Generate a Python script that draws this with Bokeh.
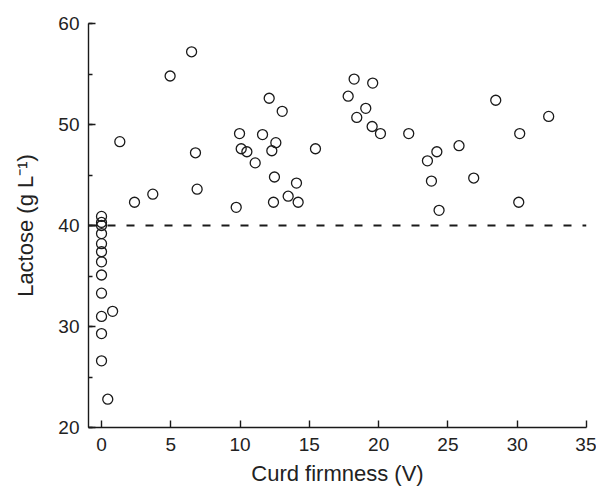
from bokeh.plotting import figure
from bokeh.models import Range1d, SingleIntervalTicker, Span, Title
from bokeh.embed import file_html
from bokeh.resources import INLINE

# Curd firmness (V) and lactose (g/L)
curd_firmness = [
    0.0, 0.0, 0.0, 0.0, 0.0, 0.0, 0.0, 0.0, 0.0, 0.0, 0.0, 0.0,
    0.45, 0.8, 1.32, 2.38, 3.7, 4.95, 6.5, 6.78, 6.9,
    9.72, 9.96, 10.08, 10.49, 11.09, 11.62, 12.1, 12.29, 12.58, 12.48, 12.41,
    13.04, 13.47, 14.07, 14.19, 15.44, 17.8, 18.23, 18.42, 19.07, 19.57,
    19.53, 20.13, 22.17, 23.52, 23.81, 24.2, 24.36, 25.8, 26.86, 28.45,
    30.18, 30.11, 32.27,
]
lactose = [
    40.9, 40.3, 40.0, 39.2, 38.2, 37.4, 36.4, 35.1, 33.3, 31.0, 29.3, 26.6,
    22.8, 31.5, 48.3, 42.3, 43.1, 54.8, 57.2, 47.2, 43.6,
    41.8, 49.1, 47.6, 47.3, 46.2, 49.0, 52.6, 47.4, 48.2, 44.8, 42.3,
    51.3, 42.9, 44.2, 42.3, 47.6, 52.8, 54.5, 50.7, 51.6, 54.1,
    49.8, 49.1, 49.1, 46.4, 44.4, 47.3, 41.5, 47.9, 44.7, 52.4,
    49.1, 42.3, 50.8,
]
threshold = 40
x_title = "Curd firmness (V)"
y_title = "Lactose (g L\u207b\u00b9)"

x_range = (-0.94, 35)
y_range = (20, 60)

p = figure(width=596, height=494, output_backend="svg", toolbar_location=None,
           x_range=Range1d(*x_range), y_range=Range1d(*y_range),
           min_border_left=88, min_border_right=10, min_border_top=23,
           min_border_bottom=67)
p.outline_line_color = None
p.xgrid.visible = False
p.ygrid.visible = False
p.background_fill_color = "white"
p.border_fill_color = "white"

font = "Liberation Sans"
for ax in (p.xaxis[0], p.yaxis[0]):
    ax.axis_line_color = "#1a1a1a"
    ax.axis_line_width = 1.4
    ax.major_tick_line_color = "#1a1a1a"
    ax.major_tick_line_width = 1.4
    ax.minor_tick_line_color = "#1a1a1a"
    ax.minor_tick_line_width = 1.4
    ax.major_tick_in = 7
    ax.major_tick_out = 0
    ax.minor_tick_in = 4
    ax.minor_tick_out = 0
    ax.major_label_text_font = font
    ax.major_label_text_font_size = "19px"
    ax.major_label_text_color = "#222222"
    ax.axis_label_text_font = font
    ax.axis_label_text_font_size = "22px"
    ax.axis_label_text_font_style = "normal"
    ax.axis_label_text_color = "#222222"

p.xaxis[0].ticker = SingleIntervalTicker(interval=5, num_minor_ticks=0)
p.yaxis[0].ticker = SingleIntervalTicker(interval=10, num_minor_ticks=2)
p.xaxis[0].major_label_standoff = 10
p.yaxis[0].major_label_standoff = 9
p.yaxis[0].axis_label = y_title
p.yaxis[0].axis_label_standoff = 17

# x-axis title as a below-panel title, centred under the 0-35 span
p.add_layout(Title(text=x_title, align="center", offset=9, standoff=10,
                   vertical_align="bottom",
                   text_font=font, text_font_size="22px",
                   text_font_style="normal", text_color="#222222"), "below")

p.add_layout(Span(location=threshold, dimension="width", line_color="#1a1a1a",
                  line_width=1.8, line_dash="8 11"))

p.scatter(curd_firmness, lactose, marker="circle", size=10, fill_color=None,
          line_color="#1a1a1a", line_width=1.3)

open("out.html", "w").write(file_html(p, INLINE))
